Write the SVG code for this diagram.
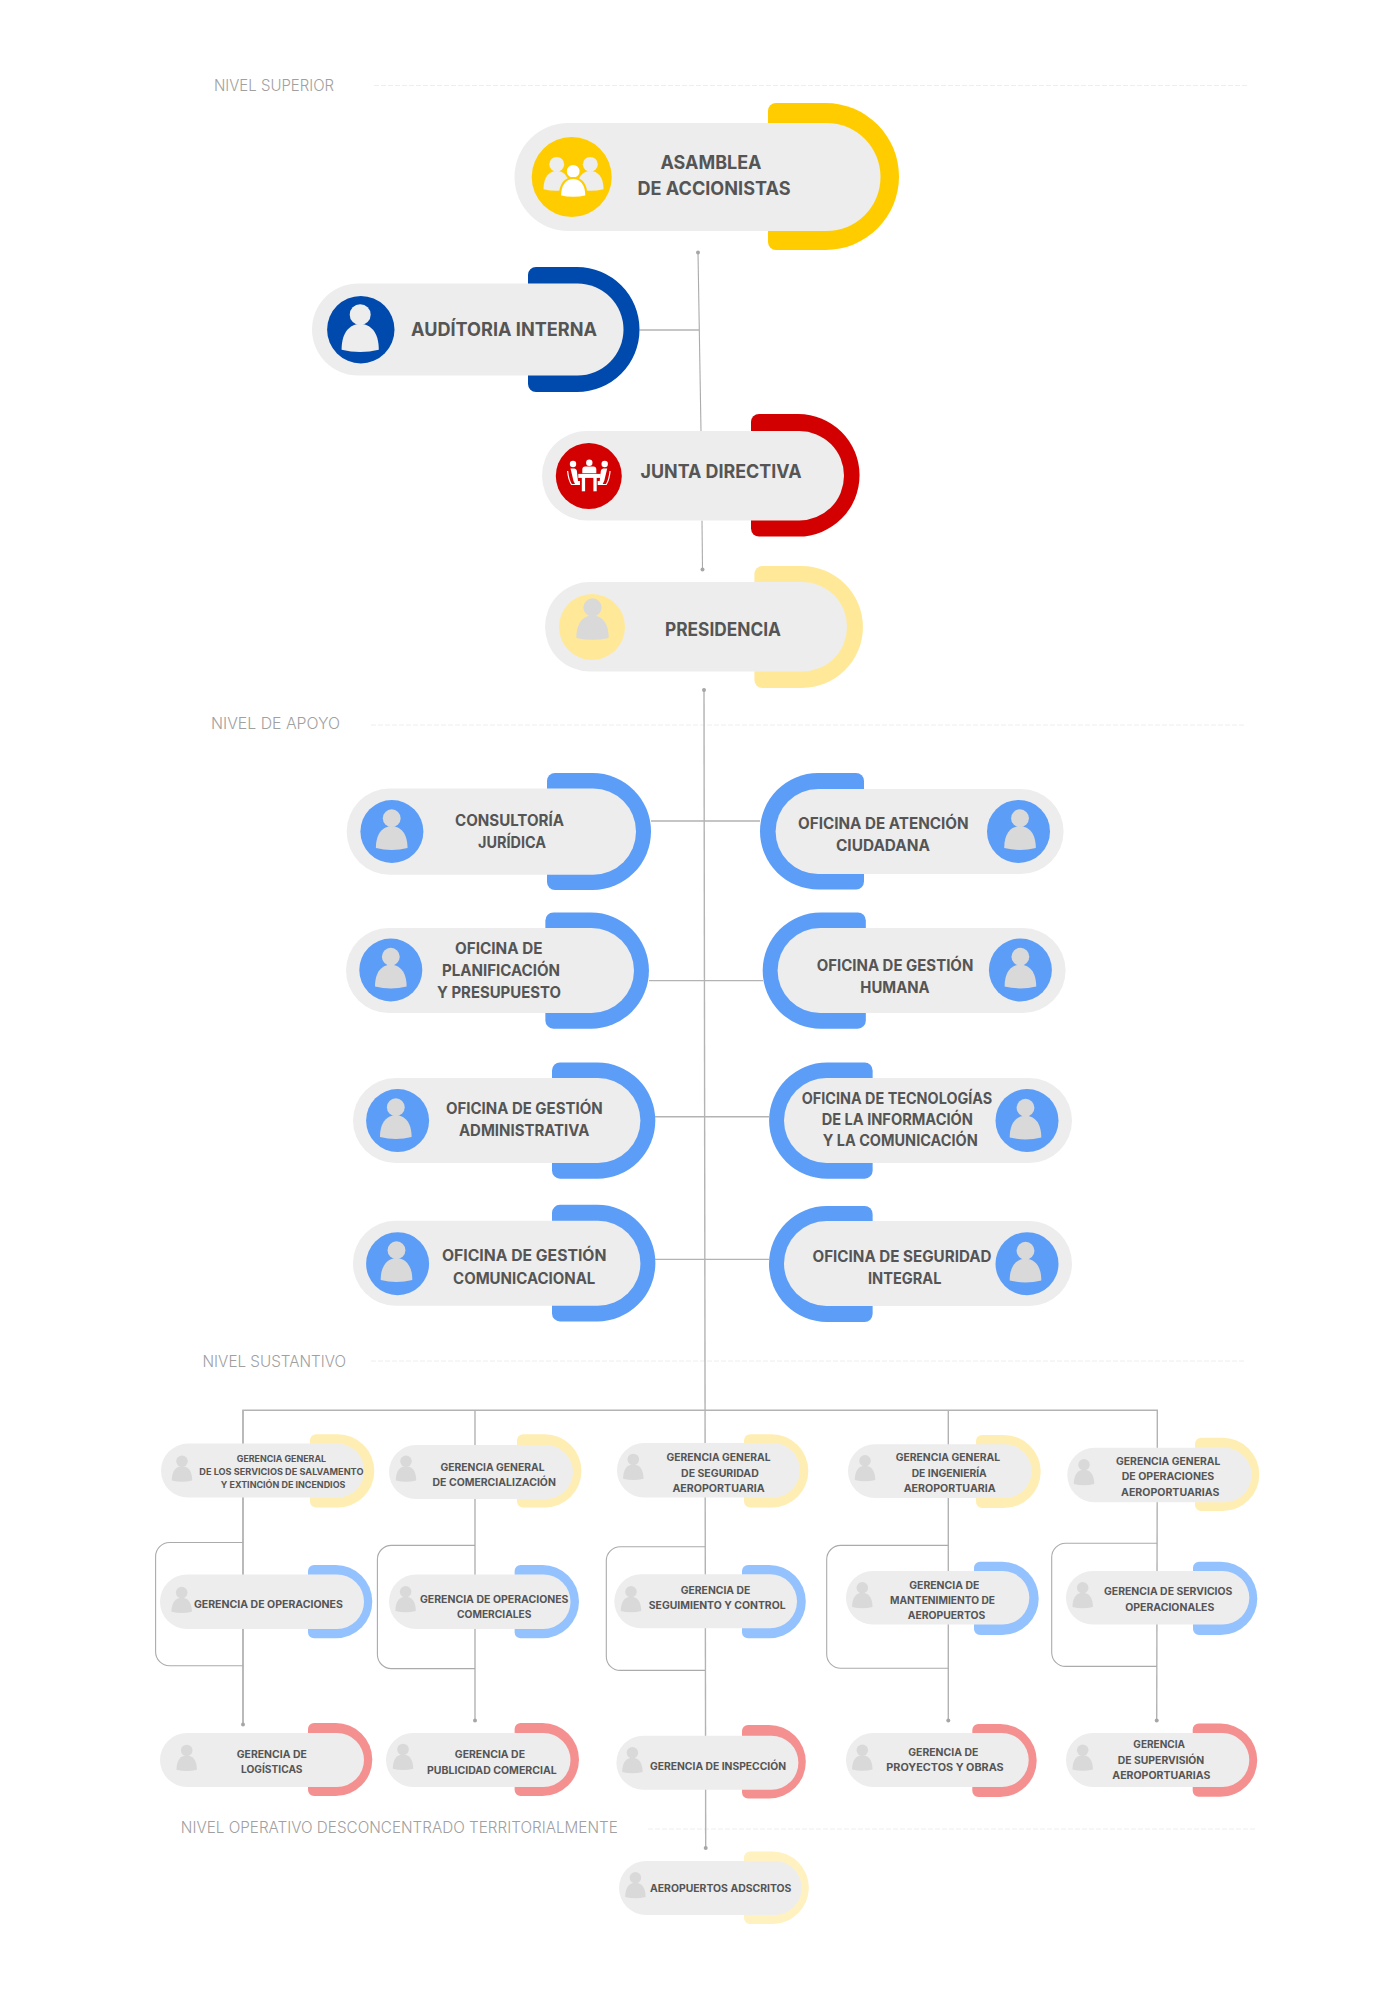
<svg xmlns="http://www.w3.org/2000/svg" width="1400" height="2000" viewBox="0 0 1400 2000">
<style>
.bg{fill:#fff}
.pill{fill:#EDEDED}
.gold{fill:#FFCC00}.navy{fill:#004AAD}.red{fill:#D20000}.pale{fill:#FFE999}.blue{fill:#5C9DF7}
.ly{fill:#FFEEB3}.lb{fill:#94C2FF}.lr{fill:#F59090}.ly2{fill:#FFF1C0}
.ic{fill:#D9D9D9}.ig{fill:#EDEDED}.iw{fill:#fff}
.c{fill:none;stroke:#B3B3B3;stroke-width:1.4}
.c2{fill:none;stroke:#ABABAB;stroke-width:1.1}
.d{fill:none;stroke:#EEEEEE;stroke-width:1;stroke-dasharray:5 2}
text{font-family:Inter,"Noto Sans","Liberation Sans",sans-serif;font-weight:700;fill:#555555;text-anchor:middle}
.t1{font-size:18.5px}.t2{font-size:15.5px;transform:translateY(-.8px)}.t3{font-size:10.2px}.t4{font-size:8.7px}
.lv{font-family:Inter,"Open Sans","Liberation Sans",sans-serif;font-weight:300;font-size:15.5px;fill:#A0A0A0}
</style>
<defs>
<marker id="dot" markerUnits="userSpaceOnUse" markerWidth="6" markerHeight="6" refX="3" refY="3"><circle cx="3" cy="3" r="2" fill="#A6A6A6"/></marker>
<g id="person"><circle cx="0" cy="-15" r="10.5"/><path d="M-18.6,20C-18.6,2 -10,-5.7 0,-5.7C10,-5.7 18.6,2 18.6,20Q0,24.5 -18.6,20Z"/></g>
</defs>
<rect class="bg" width="1400" height="2000"/>

<g id="levels">
<text class="lv" x="274" y="91" textLength="120" lengthAdjust="spacingAndGlyphs">NIVEL SUPERIOR</text><path class="d" d="M374,85.5H1248"/>
<text class="lv" x="275.5" y="729" textLength="129" lengthAdjust="spacingAndGlyphs">NIVEL DE APOYO</text><path class="d" d="M371,725H1244"/>
<text class="lv" x="274.3" y="1367.3" textLength="143.5" lengthAdjust="spacingAndGlyphs">NIVEL SUSTANTIVO</text><path class="d" d="M371,1361H1244"/>
<text class="lv" x="399.3" y="1833" textLength="437" lengthAdjust="spacingAndGlyphs">NIVEL OPERATIVO DESCONCENTRADO TERRITORIALMENTE</text><path class="d" d="M648,1829H1256.7"/>
</g>

<g id="connectors">
<path class="c2" d="M698,252.5L701,431" marker-start="url(#dot)"/>
<path class="c" d="M639.5,330H699"/>
<path class="c2" d="M702,520.5L702.5,569.5" marker-end="url(#dot)"/>
<path class="c" d="M704,690L705.7,1848" marker-start="url(#dot)" marker-end="url(#dot)"/>
<path class="c" d="M651,821H760M649,980.6H763M655,1116.7H769M655,1259.4H769"/>
<path class="c" d="M243,1724.6V1410.2H1157.3V1448"/>
<path class="c" d="M1157.3,1448L1156.7,1720.4" marker-end="url(#dot)"/>
<path class="c" d="M243,1410V1724.6" marker-end="url(#dot)"/>
<path class="c" d="M475,1410V1720.4" marker-end="url(#dot)"/>
<path class="c" d="M948.3,1410V1720.4" marker-end="url(#dot)"/>
<path class="c2" d="M243,1542.5H169.6a14,14 0 0 0 -14,14V1651.7a14,14 0 0 0 14,14H243"/>
<path class="c2" d="M475,1545.4H391.4a14,14 0 0 0 -14,14V1654.6a14,14 0 0 0 14,14H475"/>
<path class="c2" d="M705,1546.8H620.3a14,14 0 0 0 -14,14V1656.4a14,14 0 0 0 14,14H705"/>
<path class="c2" d="M948.3,1545.4H840.7a14,14 0 0 0 -14,14V1654.2a14,14 0 0 0 14,14H948.3"/>
<path class="c2" d="M1157,1543.2H1065.7a14,14 0 0 0 -14,14V1652.4a14,14 0 0 0 14,14H1157"/>
</g>

<g id="asamblea">
<path class="gold" d="M768,111a8,8 0 0 1 8,-8H825.5a73.5,73.5 0 0 1 0,147H776a8,8 0 0 1 -8,-8Z"/>
<rect class="pill" x="514.5" y="123" width="366" height="108" rx="54"/>
<circle class="gold" cx="571.7" cy="177" r="40"/>
<use href="#person" class="ig" transform="translate(556.7,175) scale(.71)"/>
<use href="#person" class="ig" transform="translate(590.3,175) scale(.71)"/>
<use href="#person" class="iw" stroke="#FFCC00" stroke-width="3" transform="translate(573.2,182) scale(.71)"/>
<text class="t1" x="711" y="169" textLength="101" lengthAdjust="spacingAndGlyphs">ASAMBLEA</text>
<text class="t1" x="714" y="195" textLength="153" lengthAdjust="spacingAndGlyphs">DE ACCIONISTAS</text>
</g>

<g id="auditoria">
<path class="navy" d="M528,275a8,8 0 0 1 8,-8H577a62.5,62.5 0 0 1 0,125H536a8,8 0 0 1 -8,-8Z"/>
<rect class="pill" x="312" y="283.5" width="311.5" height="92" rx="46"/>
<circle class="navy" cx="360.8" cy="329.7" r="33.7"/>
<use href="#person" class="ig" transform="translate(360.2,329.7)"/>
<text class="t1" x="504" y="336" textLength="186" lengthAdjust="spacingAndGlyphs">AUDÍTORIA INTERNA</text>
</g>

<g id="junta">
<path class="red" d="M751,422a8,8 0 0 1 8,-8H798.3a61.3,61.3 0 0 1 0,122.6H759a8,8 0 0 1 -8,-8Z"/>
<rect class="pill" x="542" y="431" width="302" height="89.5" rx="44.75"/>
<circle class="red" cx="588.8" cy="476" r="33"/>
<g class="iw">
<circle cx="589.3" cy="462.7" r="3.2"/><circle cx="573" cy="464" r="3.2"/><circle cx="604.7" cy="464" r="3.2"/>
<path d="M582.3,473.2V469.5a3,3 0 0 1 3,-3H593.3a3,3 0 0 1 3,3V473.2Z"/>
<rect x="578.3" y="473.9" width="22.4" height="4"/>
<rect x="581.8" y="477" width="3.3" height="14.3"/><rect x="593.4" y="477" width="3.3" height="14.3"/>
<path d="M570.5,468.5H574.5Q577,469 577,472L578,481H580V485H575.5L573.5,481Z"/>
<path d="M607.2,468.5H603.2Q600.7,469 600.7,472L599.7,481H597.7V485H602.2L604.2,481Z"/>
<path fill="none" stroke="#fff" stroke-width="1.2" d="M567.6,471Q568.5,480 571.5,484.5H578.5M610.1,471Q609.2,480 606.2,484.5H599.2"/>
</g>
<text class="t1" x="721" y="477.5" textLength="161" lengthAdjust="spacingAndGlyphs">JUNTA DIRECTIVA</text>
</g>

<g id="presidencia">
<path class="pale" d="M754.4,574a8,8 0 0 1 8,-8H802a61,61 0 0 1 0,122H762.4a8,8 0 0 1 -8,-8Z"/>
<rect class="pill" x="545" y="582" width="302" height="89.5" rx="44.75"/>
<circle class="pale" cx="592" cy="627" r="33"/>
<use href="#person" class="ic" transform="translate(592.5,620.5) scale(.87)"/>
<text class="t1" x="723" y="636" textLength="116" lengthAdjust="spacingAndGlyphs">PRESIDENCIA</text>
</g>

<g id="consultoria">
<path class="blue" d="M547,781a8,8 0 0 1 8,-8H592.5a58.5,58.5 0 0 1 0,117H555a8,8 0 0 1 -8,-8Z"/>
<rect class="pill" x="346.7" y="788.5" width="289.3" height="86.3" rx="43"/>
<circle class="blue" cx="391.9" cy="831.5" r="31.5"/>
<use href="#person" class="ic" transform="translate(391.7,831) scale(.85)"/>
<text class="t2" x="509.5" y="826.5" textLength="109" lengthAdjust="spacingAndGlyphs">CONSULTORÍA</text>
<text class="t2" x="512" y="848.7" textLength="68" lengthAdjust="spacingAndGlyphs">JURÍDICA</text>
</g>

<g id="planificacion">
<path class="blue" d="M545.4,920.5a8,8 0 0 1 8,-8H590.9a58.1,58.1 0 0 1 0,116.2H553.4a8,8 0 0 1 -8,-8Z"/>
<rect class="pill" x="346" y="928" width="288" height="85" rx="42.5"/>
<circle class="blue" cx="390.8" cy="970" r="31.5"/>
<use href="#person" class="ic" transform="translate(390.8,969.5) scale(.85)"/>
<text class="t2" x="498.7" y="955" textLength="87.5" lengthAdjust="spacingAndGlyphs">OFICINA DE</text>
<text class="t2" x="501" y="976.7" textLength="118" lengthAdjust="spacingAndGlyphs">PLANIFICACIÓN</text>
<text class="t2" x="499" y="998.8" textLength="124" lengthAdjust="spacingAndGlyphs">Y PRESUPUESTO</text>
</g>

<g id="administrativa">
<path class="blue" d="M552,1070.5a8,8 0 0 1 8,-8H597.3a58.1,58.1 0 0 1 0,116.2H560a8,8 0 0 1 -8,-8Z"/>
<rect class="pill" x="353" y="1078" width="287.4" height="85" rx="42.5"/>
<circle class="blue" cx="397.6" cy="1120.6" r="31.5"/>
<use href="#person" class="ic" transform="translate(395.8,1120) scale(.85)"/>
<text class="t2" x="524.3" y="1115" textLength="156.6" lengthAdjust="spacingAndGlyphs">OFICINA DE GESTIÓN</text>
<text class="t2" x="524.2" y="1136.7" textLength="130.5" lengthAdjust="spacingAndGlyphs">ADMINISTRATIVA</text>
</g>

<g id="comunicacional">
<path class="blue" d="M552,1212.8a8,8 0 0 1 8,-8H597.1a58.3,58.3 0 0 1 0,116.6H560a8,8 0 0 1 -8,-8Z"/>
<rect class="pill" x="353" y="1220.8" width="287.4" height="85" rx="42.5"/>
<circle class="blue" cx="397.6" cy="1263.7" r="31.5"/>
<use href="#person" class="ic" transform="translate(396.5,1263) scale(.85)"/>
<text class="t2" x="524.2" y="1262" textLength="164.5" lengthAdjust="spacingAndGlyphs">OFICINA DE GESTIÓN</text>
<text class="t2" x="524.2" y="1285" textLength="142.3" lengthAdjust="spacingAndGlyphs">COMUNICACIONAL</text>
</g>

<g id="atencion">
<path class="blue" d="M864,781a8,8 0 0 0 -8,-8H818.25a58.25,58.25 0 0 0 0,116.5H856a8,8 0 0 0 8,-8Z"/>
<rect class="pill" x="775.6" y="789" width="288" height="85" rx="42.5"/>
<circle class="blue" cx="1018.5" cy="831.4" r="31.5"/>
<use href="#person" class="ic" transform="translate(1020,831) scale(.85)"/>
<text class="t2" x="883.3" y="829.7" textLength="170.6" lengthAdjust="spacingAndGlyphs">OFICINA DE ATENCIÓN</text>
<text class="t2" x="883" y="851.8" textLength="94" lengthAdjust="spacingAndGlyphs">CIUDADANA</text>
</g>

<g id="humana">
<path class="blue" d="M865.8,920.5a8,8 0 0 0 -8,-8H820.7a58.1,58.1 0 0 0 0,116.2H857.8a8,8 0 0 0 8,-8Z"/>
<rect class="pill" x="777.6" y="928" width="288" height="85" rx="42.5"/>
<circle class="blue" cx="1020.4" cy="970" r="31.5"/>
<use href="#person" class="ic" transform="translate(1020.4,969.5) scale(.85)"/>
<text class="t2" x="895" y="972" textLength="156.6" lengthAdjust="spacingAndGlyphs">OFICINA DE GESTIÓN</text>
<text class="t2" x="895" y="994" textLength="69.3" lengthAdjust="spacingAndGlyphs">HUMANA</text>
</g>

<g id="tecnologias">
<path class="blue" d="M872.6,1070.5a8,8 0 0 0 -8,-8H827.1a58.1,58.1 0 0 0 0,116.2H864.6a8,8 0 0 0 8,-8Z"/>
<rect class="pill" x="784" y="1078" width="288" height="85" rx="42.5"/>
<circle class="blue" cx="1027" cy="1120.6" r="31.5"/>
<use href="#person" class="ic" transform="translate(1025.5,1120.5) scale(.85)"/>
<text class="t2" x="897" y="1105" textLength="190.5" lengthAdjust="spacingAndGlyphs">OFICINA DE TECNOLOGÍAS</text>
<text class="t2" x="897.3" y="1125.8" textLength="151.3" lengthAdjust="spacingAndGlyphs">DE LA INFORMACIÓN</text>
<text class="t2" x="900.2" y="1146.7" textLength="155" lengthAdjust="spacingAndGlyphs">Y LA COMUNICACIÓN</text>
</g>

<g id="seguridad">
<path class="blue" d="M872.6,1214a8,8 0 0 0 -8,-8H827a58,58 0 0 0 0,116H864.6a8,8 0 0 0 8,-8Z"/>
<rect class="pill" x="784" y="1221" width="288" height="85" rx="42.5"/>
<circle class="blue" cx="1027" cy="1263.7" r="31.5"/>
<use href="#person" class="ic" transform="translate(1025.5,1263.5) scale(.85)"/>
<text class="t2" x="902" y="1263" textLength="179" lengthAdjust="spacingAndGlyphs">OFICINA DE SEGURIDAD</text>
<text class="t2" x="904.7" y="1285" textLength="73.4" lengthAdjust="spacingAndGlyphs">INTEGRAL</text>
</g>

<g id="g1t">
<path class="ly" d="M310,1440.3a6,6 0 0 1 6,-6H337.8a36.6,36.6 0 0 1 0,73.2H316a6,6 0 0 1 -6,-6Z"/>
<rect class="pill" x="161" y="1443.6" width="203.3" height="54" rx="27"/>
<use href="#person" class="ic" transform="translate(182,1469.5) scale(.55)"/>
<text class="t4" x="281.4" y="1462" textLength="89.2" lengthAdjust="spacingAndGlyphs">GERENCIA GENERAL</text>
<text class="t4" x="281.4" y="1475" textLength="164.2" lengthAdjust="spacingAndGlyphs">DE LOS SERVICIOS DE SALVAMENTO</text>
<text class="t4" x="283.1" y="1487.9" textLength="124.6" lengthAdjust="spacingAndGlyphs">Y EXTINCIÓN DE INCENDIOS</text>
</g>
<g id="g1m">
<path class="lb" d="M308,1571a6,6 0 0 1 6,-6H335.7a36.6,36.6 0 0 1 0,73.2H314a6,6 0 0 1 -6,-6Z"/>
<rect class="pill" x="160" y="1574.5" width="204" height="54.5" rx="27"/>
<use href="#person" class="ic" transform="translate(181.7,1600.8) scale(.55)"/>
<text class="t3" x="268.4" y="1607.9" textLength="149" lengthAdjust="spacingAndGlyphs">GERENCIA DE OPERACIONES</text>
</g>
<g id="g1b">
<path class="lr" d="M308,1729a6,6 0 0 1 6,-6H335.8a36.5,36.5 0 0 1 0,73H314a6,6 0 0 1 -6,-6Z"/>
<rect class="pill" x="160" y="1733" width="204" height="54" rx="27"/>
<use href="#person" class="ic" transform="translate(186.7,1758.7) scale(.55)"/>
<text class="t3" x="271.8" y="1757.9" textLength="70" lengthAdjust="spacingAndGlyphs">GERENCIA DE</text>
<text class="t3" x="271.8" y="1772.9" textLength="61.5" lengthAdjust="spacingAndGlyphs">LOGÍSTICAS</text>
</g>

<g id="g2t">
<path class="ly" d="M517,1440.3a6,6 0 0 1 6,-6H544.9a36.6,36.6 0 0 1 0,73.2H523a6,6 0 0 1 -6,-6Z"/>
<rect class="pill" x="389" y="1445" width="184" height="54" rx="27"/>
<use href="#person" class="ic" transform="translate(406,1469.5) scale(.55)"/>
<text class="t3" x="492.5" y="1471.4" textLength="104" lengthAdjust="spacingAndGlyphs">GERENCIA GENERAL</text>
<text class="t3" x="494.2" y="1486.4" textLength="123.3" lengthAdjust="spacingAndGlyphs">DE COMERCIALIZACIÓN</text>
</g>
<g id="g2m">
<path class="lb" d="M514.6,1571a6,6 0 0 1 6,-6H542.4a36.6,36.6 0 0 1 0,73.2H520.6a6,6 0 0 1 -6,-6Z"/>
<rect class="pill" x="389" y="1574.5" width="181.5" height="54.5" rx="27"/>
<use href="#person" class="ic" transform="translate(405.6,1600) scale(.55)"/>
<text class="t3" x="494.2" y="1603.2" textLength="148.6" lengthAdjust="spacingAndGlyphs">GERENCIA DE OPERACIONES</text>
<text class="t3" x="494.2" y="1618.2" textLength="74.4" lengthAdjust="spacingAndGlyphs">COMERCIALES</text>
</g>
<g id="g2b">
<path class="lr" d="M514.6,1729a6,6 0 0 1 6,-6H542.5a36.5,36.5 0 0 1 0,73H520.6a6,6 0 0 1 -6,-6Z"/>
<rect class="pill" x="386" y="1733" width="184.5" height="54" rx="27"/>
<use href="#person" class="ic" transform="translate(403,1757.7) scale(.55)"/>
<text class="t3" x="489.9" y="1757.9" textLength="70.2" lengthAdjust="spacingAndGlyphs">GERENCIA DE</text>
<text class="t3" x="491.9" y="1774.3" textLength="129.7" lengthAdjust="spacingAndGlyphs">PUBLICIDAD COMERCIAL</text>
</g>

<g id="g3t">
<path class="ly" d="M744,1440.3a6,6 0 0 1 6,-6H771.8a36.6,36.6 0 0 1 0,73.2H750a6,6 0 0 1 -6,-6Z"/>
<rect class="pill" x="617" y="1443" width="183" height="54.5" rx="27"/>
<use href="#person" class="ic" transform="translate(633.3,1467.7) scale(.55)"/>
<text class="t3" x="718.5" y="1461" textLength="104" lengthAdjust="spacingAndGlyphs">GERENCIA GENERAL</text>
<text class="t3" x="719.9" y="1476.5" textLength="77.7" lengthAdjust="spacingAndGlyphs">DE SEGURIDAD</text>
<text class="t3" x="718.5" y="1492" textLength="92.2" lengthAdjust="spacingAndGlyphs">AEROPORTUARIA</text>
</g>
<g id="g3m">
<path class="lb" d="M742,1571a6,6 0 0 1 6,-6H769.2a36.6,36.6 0 0 1 0,73.2H748a6,6 0 0 1 -6,-6Z"/>
<rect class="pill" x="614.3" y="1574.3" width="182.7" height="54" rx="27"/>
<use href="#person" class="ic" transform="translate(631,1600) scale(.55)"/>
<text class="t3" x="715.5" y="1594" textLength="69.5" lengthAdjust="spacingAndGlyphs">GERENCIA DE</text>
<text class="t3" x="717.2" y="1609.3" textLength="136.8" lengthAdjust="spacingAndGlyphs">SEGUIMIENTO Y CONTROL</text>
</g>
<g id="g3b">
<path class="lr" d="M742,1731a6,6 0 0 1 6,-6H769a36.8,36.8 0 0 1 0,73.6H748a6,6 0 0 1 -6,-6Z"/>
<rect class="pill" x="616.4" y="1735.7" width="182" height="54" rx="27"/>
<use href="#person" class="ic" transform="translate(632.4,1761) scale(.55)"/>
<text class="t3" x="718" y="1770.4" textLength="136" lengthAdjust="spacingAndGlyphs">GERENCIA DE INSPECCIÓN</text>
</g>
<g id="aeropuertos">
<path class="ly2" d="M744,1857.4a6,6 0 0 1 6,-6H772.5a36.3,36.3 0 0 1 0,72.6H750a6,6 0 0 1 -6,-6Z"/>
<rect class="pill" x="619" y="1861" width="182.8" height="54" rx="27"/>
<use href="#person" class="ic" transform="translate(635.4,1886) scale(.55)"/>
<text class="t3" x="720.7" y="1892" textLength="141.5" lengthAdjust="spacingAndGlyphs">AEROPUERTOS ADSCRITOS</text>
</g>

<g id="g4t">
<path class="ly" d="M976,1441a6,6 0 0 1 6,-6H1004.2a36.5,36.5 0 0 1 0,73H982a6,6 0 0 1 -6,-6Z"/>
<rect class="pill" x="848" y="1444.3" width="183.7" height="53.7" rx="26.8"/>
<use href="#person" class="ic" transform="translate(865,1469) scale(.55)"/>
<text class="t3" x="947.9" y="1461" textLength="104.3" lengthAdjust="spacingAndGlyphs">GERENCIA GENERAL</text>
<text class="t3" x="949.2" y="1476.5" textLength="75" lengthAdjust="spacingAndGlyphs">DE INGENIERÍA</text>
<text class="t3" x="949.7" y="1492" textLength="92" lengthAdjust="spacingAndGlyphs">AEROPORTUARIA</text>
</g>
<g id="g4m">
<path class="lb" d="M974,1567.8a6,6 0 0 1 6,-6H1002.1a36.6,36.6 0 0 1 0,73.2H980a6,6 0 0 1 -6,-6Z"/>
<rect class="pill" x="846" y="1571" width="183.3" height="53.6" rx="26.8"/>
<use href="#person" class="ic" transform="translate(862.3,1596) scale(.55)"/>
<text class="t3" x="944.3" y="1589" textLength="70" lengthAdjust="spacingAndGlyphs">GERENCIA DE</text>
<text class="t3" x="942.5" y="1604.2" textLength="105" lengthAdjust="spacingAndGlyphs">MANTENIMIENTO DE</text>
<text class="t3" x="946.5" y="1619" textLength="77.6" lengthAdjust="spacingAndGlyphs">AEROPUERTOS</text>
</g>
<g id="g4b">
<path class="lr" d="M972.3,1730a6,6 0 0 1 6,-6H1000.2a36.5,36.5 0 0 1 0,73H978.3a6,6 0 0 1 -6,-6Z"/>
<rect class="pill" x="846" y="1733" width="182.7" height="54" rx="27"/>
<use href="#person" class="ic" transform="translate(862.3,1758.5) scale(.55)"/>
<text class="t3" x="943.3" y="1755.7" textLength="70" lengthAdjust="spacingAndGlyphs">GERENCIA DE</text>
<text class="t3" x="945" y="1770.7" textLength="117.4" lengthAdjust="spacingAndGlyphs">PROYECTOS Y OBRAS</text>
</g>

<g id="g5t">
<path class="ly" d="M1195,1443.7a6,6 0 0 1 6,-6H1222.6a36.7,36.7 0 0 1 0,73.4H1201a6,6 0 0 1 -6,-6Z"/>
<rect class="pill" x="1067.3" y="1447.7" width="184.4" height="54.6" rx="27.3"/>
<use href="#person" class="ic" transform="translate(1084,1473) scale(.55)"/>
<text class="t3" x="1168.2" y="1465" textLength="104.3" lengthAdjust="spacingAndGlyphs">GERENCIA GENERAL</text>
<text class="t3" x="1168" y="1480.3" textLength="92.6" lengthAdjust="spacingAndGlyphs">DE OPERACIONES</text>
<text class="t3" x="1170.2" y="1495.7" textLength="98.3" lengthAdjust="spacingAndGlyphs">AEROPORTUARIAS</text>
</g>
<g id="g5m">
<path class="lb" d="M1193,1567.8a6,6 0 0 1 6,-6H1220.7a36.6,36.6 0 0 1 0,73.2H1199a6,6 0 0 1 -6,-6Z"/>
<rect class="pill" x="1066" y="1571" width="183.3" height="53.6" rx="26.8"/>
<use href="#person" class="ic" transform="translate(1082.7,1596) scale(.55)"/>
<text class="t3" x="1168.2" y="1595.2" textLength="128.3" lengthAdjust="spacingAndGlyphs">GERENCIA DE SERVICIOS</text>
<text class="t3" x="1169.8" y="1611" textLength="89" lengthAdjust="spacingAndGlyphs">OPERACIONALES</text>
</g>
<g id="g5b">
<path class="lr" d="M1192.7,1729.6a6,6 0 0 1 6,-6H1220.7a36.6,36.6 0 0 1 0,73.2H1198.7a6,6 0 0 1 -6,-6Z"/>
<rect class="pill" x="1066" y="1733" width="183.3" height="54" rx="27"/>
<use href="#person" class="ic" transform="translate(1082.7,1758.5) scale(.55)"/>
<text class="t3" x="1159.2" y="1748" textLength="51.7" lengthAdjust="spacingAndGlyphs">GERENCIA</text>
<text class="t3" x="1161" y="1764" textLength="86.6" lengthAdjust="spacingAndGlyphs">DE SUPERVISIÓN</text>
<text class="t3" x="1161.3" y="1779" textLength="98" lengthAdjust="spacingAndGlyphs">AEROPORTUARIAS</text>
</g>
</svg>
